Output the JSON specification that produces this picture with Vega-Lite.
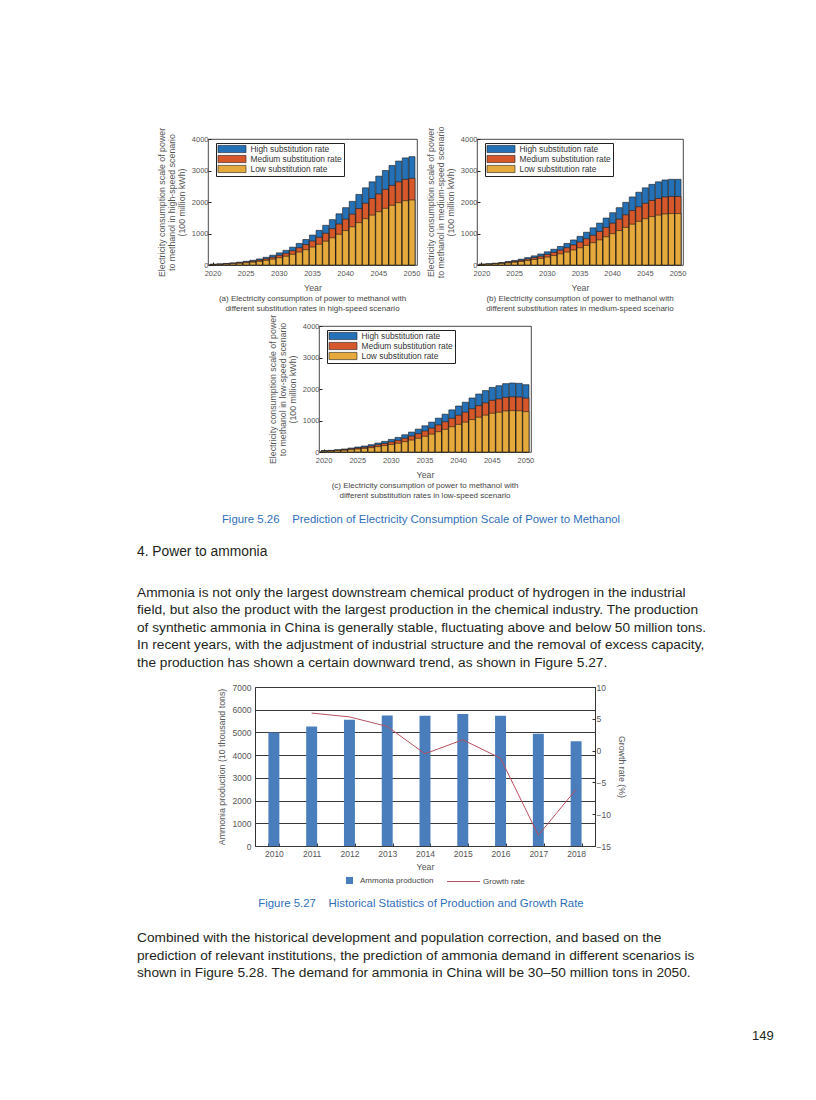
{
  "$schema": "https://vega.github.io/schema/vega-lite/v6.json",
  "background": "white",
  "padding": 0,
  "spacing": 0,
  "config": {
    "font": "Liberation Sans",
    "view": {"stroke": "#1a1a1a", "strokeWidth": 0.8},
    "axis": {"labelFont": "Liberation Sans", "titleFont": "Liberation Sans", "labelColor": "#555", "titleColor": "#555", "titleFontWeight": "normal", "labelFontSize": 7.5, "titleFontSize": 8.8, "domain": false, "tickColor": "#222", "grid": false, "titleLineHeight": 10},
    "title": {"font": "Liberation Sans", "fontSize": 8, "fontWeight": "normal", "color": "#444", "lineHeight": 10, "offset": 3, "anchor": "middle"},
    "text": {"font": "Liberation Sans"}
  },
  "resolve": {"scale": {"color": "independent", "fill": "independent", "stroke": "independent"}, "legend": {"color": "independent", "fill": "independent", "stroke": "independent"}},
  "datasets": {
    "a": [
      {"year": 2020, "h": 25, "m": 20, "l": 15}, {"year": 2021, "h": 35, "m": 28, "l": 21}, {"year": 2022, "h": 50, "m": 40, "l": 30},
      {"year": 2023, "h": 68, "m": 54, "l": 41}, {"year": 2024, "h": 90, "m": 72, "l": 54}, {"year": 2025, "h": 118, "m": 94, "l": 71},
      {"year": 2026, "h": 150, "m": 120, "l": 90}, {"year": 2027, "h": 192, "m": 154, "l": 115}, {"year": 2028, "h": 245, "m": 196, "l": 147},
      {"year": 2029, "h": 310, "m": 248, "l": 186}, {"year": 2030, "h": 385, "m": 308, "l": 231}, {"year": 2031, "h": 465, "m": 372, "l": 279},
      {"year": 2032, "h": 565, "m": 452, "l": 339}, {"year": 2033, "h": 685, "m": 548, "l": 411}, {"year": 2034, "h": 810, "m": 648, "l": 486},
      {"year": 2035, "h": 950, "m": 760, "l": 570}, {"year": 2036, "h": 1100, "m": 880, "l": 660}, {"year": 2037, "h": 1260, "m": 1008, "l": 756},
      {"year": 2038, "h": 1440, "m": 1152, "l": 864}, {"year": 2039, "h": 1625, "m": 1300, "l": 975}, {"year": 2040, "h": 1820, "m": 1456, "l": 1092},
      {"year": 2041, "h": 2020, "m": 1616, "l": 1212}, {"year": 2042, "h": 2240, "m": 1792, "l": 1344}, {"year": 2043, "h": 2450, "m": 1960, "l": 1470},
      {"year": 2044, "h": 2640, "m": 2112, "l": 1584}, {"year": 2045, "h": 2820, "m": 2256, "l": 1692}, {"year": 2046, "h": 3000, "m": 2400, "l": 1800},
      {"year": 2047, "h": 3160, "m": 2528, "l": 1896}, {"year": 2048, "h": 3300, "m": 2640, "l": 1980}, {"year": 2049, "h": 3400, "m": 2720, "l": 2040},
      {"year": 2050, "h": 3440, "m": 2752, "l": 2064}
    ],
    "b": [
      {"year": 2020, "h": 28, "m": 22, "l": 17}, {"year": 2021, "h": 40, "m": 32, "l": 24}, {"year": 2022, "h": 58, "m": 46, "l": 35},
      {"year": 2023, "h": 80, "m": 64, "l": 48}, {"year": 2024, "h": 110, "m": 88, "l": 66}, {"year": 2025, "h": 145, "m": 116, "l": 87},
      {"year": 2026, "h": 185, "m": 148, "l": 111}, {"year": 2027, "h": 235, "m": 188, "l": 141}, {"year": 2028, "h": 290, "m": 232, "l": 174},
      {"year": 2029, "h": 350, "m": 280, "l": 210}, {"year": 2030, "h": 420, "m": 336, "l": 252}, {"year": 2031, "h": 500, "m": 400, "l": 300},
      {"year": 2032, "h": 590, "m": 472, "l": 354}, {"year": 2033, "h": 685, "m": 548, "l": 411}, {"year": 2034, "h": 795, "m": 636, "l": 477},
      {"year": 2035, "h": 910, "m": 728, "l": 546}, {"year": 2036, "h": 1040, "m": 832, "l": 624}, {"year": 2037, "h": 1180, "m": 944, "l": 708},
      {"year": 2038, "h": 1330, "m": 1064, "l": 798}, {"year": 2039, "h": 1490, "m": 1192, "l": 894}, {"year": 2040, "h": 1660, "m": 1328, "l": 996},
      {"year": 2041, "h": 1820, "m": 1456, "l": 1092}, {"year": 2042, "h": 1990, "m": 1592, "l": 1194}, {"year": 2043, "h": 2160, "m": 1728, "l": 1296},
      {"year": 2044, "h": 2310, "m": 1848, "l": 1386}, {"year": 2045, "h": 2450, "m": 1960, "l": 1470}, {"year": 2046, "h": 2560, "m": 2048, "l": 1536},
      {"year": 2047, "h": 2640, "m": 2112, "l": 1584}, {"year": 2048, "h": 2700, "m": 2160, "l": 1620}, {"year": 2049, "h": 2720, "m": 2176, "l": 1632},
      {"year": 2050, "h": 2720, "m": 2176, "l": 1632}
    ],
    "c": [
      {"year": 2020, "h": 42, "m": 34, "l": 25}, {"year": 2021, "h": 53, "m": 42, "l": 32}, {"year": 2022, "h": 74, "m": 59, "l": 44},
      {"year": 2023, "h": 95, "m": 76, "l": 57}, {"year": 2024, "h": 126, "m": 101, "l": 76}, {"year": 2025, "h": 158, "m": 126, "l": 95},
      {"year": 2026, "h": 190, "m": 152, "l": 114}, {"year": 2027, "h": 232, "m": 186, "l": 139}, {"year": 2028, "h": 284, "m": 227, "l": 170},
      {"year": 2029, "h": 337, "m": 270, "l": 202}, {"year": 2030, "h": 400, "m": 320, "l": 240}, {"year": 2031, "h": 463, "m": 370, "l": 278},
      {"year": 2032, "h": 547, "m": 438, "l": 328}, {"year": 2033, "h": 632, "m": 506, "l": 379}, {"year": 2034, "h": 726, "m": 581, "l": 436},
      {"year": 2035, "h": 832, "m": 666, "l": 499}, {"year": 2036, "h": 947, "m": 758, "l": 568}, {"year": 2037, "h": 1074, "m": 859, "l": 644},
      {"year": 2038, "h": 1200, "m": 960, "l": 720}, {"year": 2039, "h": 1337, "m": 1070, "l": 802}, {"year": 2040, "h": 1460, "m": 1168, "l": 876},
      {"year": 2041, "h": 1580, "m": 1264, "l": 948}, {"year": 2042, "h": 1715, "m": 1372, "l": 1029}, {"year": 2043, "h": 1840, "m": 1472, "l": 1104},
      {"year": 2044, "h": 1950, "m": 1560, "l": 1170}, {"year": 2045, "h": 2050, "m": 1640, "l": 1230}, {"year": 2046, "h": 2105, "m": 1684, "l": 1263},
      {"year": 2047, "h": 2170, "m": 1736, "l": 1302}, {"year": 2048, "h": 2190, "m": 1752, "l": 1314}, {"year": 2049, "h": 2180, "m": 1744, "l": 1308},
      {"year": 2050, "h": 2137, "m": 1710, "l": 1282}
    ],
    "nh3": [
      {"year": 2010, "prod": 5000},
      {"year": 2011, "prod": 5260, "growth": 5.9},
      {"year": 2012, "prod": 5560, "growth": 5.3},
      {"year": 2013, "prod": 5750, "growth": 3.8},
      {"year": 2014, "prod": 5730, "growth": -0.5},
      {"year": 2015, "prod": 5810, "growth": 1.7},
      {"year": 2016, "prod": 5730, "growth": -1.2},
      {"year": 2017, "prod": 4940, "growth": -13.3},
      {"year": 2018, "prod": 4610, "growth": -6.1}
    ]
  },
  "vconcat": [
    {"width": 1, "height": 125, "data": {"values": []}, "mark": "point", "view": {"stroke": null}},
    {
      "hconcat": [
        {"width": 156, "height": 1, "data": {"values": []}, "mark": "point", "view": {"stroke": null}},
        {
          "width": 209, "height": 126,
          "data": {"name": "a"},
          "transform": [{"fold": ["h", "m", "l"], "as": ["rate", "value"]}],
          "mark": {"type": "bar", "stroke": "#1a1a1a", "strokeWidth": 0.6},
          "encoding": {
            "x": {"field": "year", "type": "ordinal", "scale": {"paddingInner": 0.08, "paddingOuter": 0.3},
                  "axis": {"values": [2020, 2025, 2030, 2035, 2040, 2045, 2050], "labelAngle": 0, "title": "Year", "titlePadding": 7, "labelPadding": 7, "tickSize": -3}},
            "y": {"field": "value", "type": "quantitative", "stack": null, "scale": {"domain": [0, 4000], "nice": false},
                  "axis": {"values": [0, 1000, 2000, 3000, 4000], "format": "d", "title": ["Electricity consumption scale of power", "to methanol in high-speed scenario", "(100 million kWh)"], "titlePadding": 5, "labelPadding": 3, "tickSize": -3}},
            "color": {"field": "rate", "type": "nominal", "scale": {"domain": ["h", "m", "l"], "range": ["#2471b8", "#d6582a", "#e6aa3c"]},
                      "legend": {"orient": "none", "legendX": 8, "legendY": 4, "title": null, "direction": "vertical", "strokeColor": "#222", "fillColor": "#fff", "padding": 1.5, "labelFontSize": 8.4, "labelColor": "#333", "labelFont": "Liberation Sans", "symbolType": "M-3.5,-0.9H3.5V0.9H-3.5Z", "symbolSize": 64, "symbolOffset": 10, "labelOffset": 14, "rowPadding": -1.5, "symbolStrokeColor": "#222", "symbolStrokeWidth": 0.6, "symbolOpacity": 1,
                                 "labelExpr": "datum.label == 'h' ? 'High substitution rate' : datum.label == 'm' ? 'Medium substitution rate' : 'Low substitution rate'"}}
          },
          "title": {"text": ["(a) Electricity consumption of power to methanol with", "different substitution rates in high-speed scenario"], "orient": "bottom"}
        },
        {"width": 4, "height": 1, "data": {"values": []}, "mark": "point", "view": {"stroke": null}},
        {
          "width": 206, "height": 126,
          "data": {"name": "b"},
          "transform": [{"fold": ["h", "m", "l"], "as": ["rate", "value"]}],
          "mark": {"type": "bar", "stroke": "#1a1a1a", "strokeWidth": 0.6},
          "encoding": {
            "x": {"field": "year", "type": "ordinal", "scale": {"paddingInner": 0.08, "paddingOuter": 0.3},
                  "axis": {"values": [2020, 2025, 2030, 2035, 2040, 2045, 2050], "labelAngle": 0, "title": "Year", "titlePadding": 7, "labelPadding": 7, "tickSize": -3}},
            "y": {"field": "value", "type": "quantitative", "stack": null, "scale": {"domain": [0, 4000], "nice": false},
                  "axis": {"values": [0, 1000, 2000, 3000, 4000], "format": "d", "title": ["Electricity consumption scale of power", "to methanol in medium-speed scenario", "(100 million kWh)"], "titlePadding": 5, "labelPadding": 3, "tickSize": -3}},
            "color": {"field": "rate", "type": "nominal", "scale": {"domain": ["h", "m", "l"], "range": ["#2471b8", "#d6582a", "#e6aa3c"]},
                      "legend": {"orient": "none", "legendX": 8, "legendY": 4, "title": null, "direction": "vertical", "strokeColor": "#222", "fillColor": "#fff", "padding": 1.5, "labelFontSize": 8.4, "labelColor": "#333", "labelFont": "Liberation Sans", "symbolType": "M-3.5,-0.9H3.5V0.9H-3.5Z", "symbolSize": 64, "symbolOffset": 10, "labelOffset": 14, "rowPadding": -1.5, "symbolStrokeColor": "#222", "symbolStrokeWidth": 0.6, "symbolOpacity": 1,
                                 "labelExpr": "datum.label == 'h' ? 'High substitution rate' : datum.label == 'm' ? 'Medium substitution rate' : 'Low substitution rate'"}}
          },
          "title": {"text": ["(b) Electricity consumption of power to methanol with", "different substitution rates in medium-speed scenario"], "orient": "bottom"}
        }
      ],
      "spacing": 0,
      "resolve": {"scale": {"color": "independent"}, "legend": {"color": "independent"}}
    },
    {
      "hconcat": [
        {"width": 267, "height": 1, "data": {"values": []}, "mark": "point", "view": {"stroke": null}},
        {
          "width": 212, "height": 126,
          "data": {"name": "c"},
          "transform": [{"fold": ["h", "m", "l"], "as": ["rate", "value"]}],
          "mark": {"type": "bar", "stroke": "#1a1a1a", "strokeWidth": 0.6},
          "encoding": {
            "x": {"field": "year", "type": "ordinal", "scale": {"paddingInner": 0.08, "paddingOuter": 0.3},
                  "axis": {"values": [2020, 2025, 2030, 2035, 2040, 2045, 2050], "labelAngle": 0, "title": "Year", "titlePadding": 7, "labelPadding": 7, "tickSize": -3}},
            "y": {"field": "value", "type": "quantitative", "stack": null, "scale": {"domain": [0, 4000], "nice": false},
                  "axis": {"values": [0, 1000, 2000, 3000, 4000], "format": "d", "title": ["Electricity consumption scale of power", "to methanol in low-speed scenario", "(100 million kWh)"], "titlePadding": 5, "labelPadding": 3, "tickSize": -3}},
            "color": {"field": "rate", "type": "nominal", "scale": {"domain": ["h", "m", "l"], "range": ["#2471b8", "#d6582a", "#e6aa3c"]},
                      "legend": {"orient": "none", "legendX": 8, "legendY": 4, "title": null, "direction": "vertical", "strokeColor": "#222", "fillColor": "#fff", "padding": 1.5, "labelFontSize": 8.4, "labelColor": "#333", "labelFont": "Liberation Sans", "symbolType": "M-3.5,-0.9H3.5V0.9H-3.5Z", "symbolSize": 64, "symbolOffset": 10, "labelOffset": 14, "rowPadding": -1.5, "symbolStrokeColor": "#222", "symbolStrokeWidth": 0.6, "symbolOpacity": 1,
                                 "labelExpr": "datum.label == 'h' ? 'High substitution rate' : datum.label == 'm' ? 'Medium substitution rate' : 'Low substitution rate'"}}
          },
          "title": {"text": ["(c) Electricity consumption of power to methanol with", "different substitution rates in low-speed scenario"], "orient": "bottom"}
        }
      ],
      "spacing": 0,
      "resolve": {"scale": {"color": "independent"}, "legend": {"color": "independent"}}
    },
    {"width": 1, "height": 12, "data": {"values": []}, "mark": "point", "view": {"stroke": null}},
    {
      "hconcat": [
        {"width": 137, "height": 1, "data": {"values": []}, "mark": "point", "view": {"stroke": null}},
        {
          "width": 568, "height": 14, "view": {"stroke": null},
          "data": {"values": [{"text": "Figure 5.26\u00a0\u00a0\u00a0\u00a0Prediction of Electricity Consumption Scale of Power to Methanol"}]},
          "mark": {"type": "text", "align": "center", "baseline": "middle", "fontSize": 11.4, "color": "#2f6fba"},
          "encoding": {
            "x": {"datum": 0.5, "type": "quantitative", "scale": {"domain": [0, 1]}, "axis": null},
            "text": {"field": "text"}
          }
        }
      ],
      "spacing": 0
    },
    {"width": 1, "height": 18, "data": {"values": []}, "mark": "point", "view": {"stroke": null}},
    {
      "hconcat": [
        {"width": 137, "height": 1, "data": {"values": []}, "mark": "point", "view": {"stroke": null}},
        {
          "width": 568, "height": 14, "view": {"stroke": null},
          "data": {"values": [{"text": "4.\u00a0Power to ammonia"}]},
          "mark": {"type": "text", "align": "left", "baseline": "middle", "fontSize": 13.8, "color": "#231f20"},
          "encoding": {
            "x": {"datum": 0, "type": "quantitative", "scale": {"domain": [0, 1]}, "axis": null},
            "text": {"field": "text"}
          }
        }
      ],
      "spacing": 0
    },
    {"width": 1, "height": 25, "data": {"values": []}, "mark": "point", "view": {"stroke": null}},
    {
      "hconcat": [
        {"width": 137, "height": 1, "data": {"values": []}, "mark": "point", "view": {"stroke": null}},
        {
          "width": 568, "height": 87.5, "view": {"stroke": null},
          "data": {"values": [
            {"line": 1, "text": "Ammonia is not only the largest downstream chemical product of hydrogen in the industrial"},
            {"line": 2, "text": "field, but also the product with the largest production in the chemical industry. The production"},
            {"line": 3, "text": "of synthetic ammonia in China is generally stable, fluctuating above and below 50 million tons."},
            {"line": 4, "text": "In recent years, with the adjustment of industrial structure and the removal of excess capacity,"},
            {"line": 5, "text": "the production has shown a certain downward trend, as shown in Figure 5.27."}
          ]},
          "mark": {"type": "text", "align": "left", "baseline": "middle", "fontSize": 13.7, "color": "#231f20"},
          "encoding": {
            "x": {"datum": 0, "type": "quantitative", "scale": {"domain": [0, 1]}, "axis": null},
            "y": {"field": "line", "type": "ordinal", "axis": null},
            "text": {"field": "text"}
          }
        }
      ],
      "spacing": 0
    },
    {"width": 1, "height": 10, "data": {"values": []}, "mark": "point", "view": {"stroke": null}},
    {
      "hconcat": [
        {"width": 216, "height": 1, "data": {"values": []}, "mark": "point", "view": {"stroke": null}},
        {
          "width": 340, "height": 159,
          "view": {"stroke": "#333", "strokeWidth": 1},
          "data": {"name": "nh3"},
          "encoding": {
            "x": {"field": "year", "type": "ordinal", "scale": {"paddingInner": 0.71, "paddingOuter": 0.355},
                  "axis": {"labelAngle": 0, "title": "Year", "tickBand": "extent", "tickSize": -3, "labelFontSize": 8.5, "titleFontSize": 8.8, "labelPadding": 6, "titlePadding": 5, "tickColor": "#333"}}
          },
          "layer": [
            {
              "mark": {"type": "bar"},
              "encoding": {
                "y": {"field": "prod", "type": "quantitative", "scale": {"domain": [0, 7000], "nice": false},
                      "axis": {"values": [0, 1000, 2000, 3000, 4000, 5000, 6000, 7000], "format": "d", "title": "Ammonia production (10 thousand tons)", "grid": true, "gridColor": "#3a3a3a", "gridWidth": 1.1, "ticks": false, "labelPadding": 4, "labelFontSize": 8.5, "titleFontSize": 8.8, "titlePadding": 6}},
                "fill": {"datum": "Ammonia production", "type": "nominal", "scale": {"range": ["#4a7dbb"]},
                         "legend": {"orient": "none", "legendX": 90, "legendY": 189, "direction": "horizontal", "title": null, "symbolType": "square", "symbolSize": 50, "labelFontSize": 8, "labelColor": "#444", "labelFont": "Liberation Sans", "labelOffset": 6, "padding": 0, "symbolOpacity": 1}}
              }
            },
            {
              "mark": {"type": "line", "strokeWidth": 1},
              "encoding": {
                "y": {"field": "growth", "type": "quantitative", "scale": {"domain": [-15, 10], "nice": false},
                      "axis": {"orient": "right", "values": [-15, -10, -5, 0, 5, 10], "title": "Growth rate (%)", "tickSize": -3, "labelPadding": 4, "labelFontSize": 8.5, "titleFontSize": 8.8, "titlePadding": 6, "tickColor": "#333"}},
                "stroke": {"datum": "Growth rate", "type": "nominal", "scale": {"range": ["#b5505e"]},
                           "legend": {"orient": "none", "legendX": 192, "legendY": 189, "direction": "horizontal", "title": null, "symbolType": "M-3.3,0H3.3", "symbolSize": 100, "symbolStrokeWidth": 1, "symbolOffset": 11, "labelOffset": 14, "labelFontSize": 8, "labelColor": "#444", "labelFont": "Liberation Sans", "padding": 0}}
              }
            }
          ],
          "resolve": {"scale": {"y": "independent"}}
        }
      ],
      "spacing": 0,
      "resolve": {"scale": {"fill": "independent", "stroke": "independent"}, "legend": {"fill": "independent", "stroke": "independent"}}
    },
    {"width": 1, "height": 10, "data": {"values": []}, "mark": "point", "view": {"stroke": null}},
    {
      "hconcat": [
        {"width": 137, "height": 1, "data": {"values": []}, "mark": "point", "view": {"stroke": null}},
        {
          "width": 568, "height": 14, "view": {"stroke": null},
          "data": {"values": [{"text": "Figure 5.27\u00a0\u00a0\u00a0\u00a0Historical Statistics of Production and Growth Rate"}]},
          "mark": {"type": "text", "align": "center", "baseline": "middle", "fontSize": 11.4, "color": "#2f6fba"},
          "encoding": {
            "x": {"datum": 0.5, "type": "quantitative", "scale": {"domain": [0, 1]}, "axis": null},
            "text": {"field": "text"}
          }
        }
      ],
      "spacing": 0
    },
    {"width": 1, "height": 18, "data": {"values": []}, "mark": "point", "view": {"stroke": null}},
    {
      "hconcat": [
        {"width": 137, "height": 1, "data": {"values": []}, "mark": "point", "view": {"stroke": null}},
        {
          "width": 568, "height": 53, "view": {"stroke": null},
          "data": {"values": [
            {"line": 1, "text": "Combined with the historical development and population correction, and based on the"},
            {"line": 2, "text": "prediction of relevant institutions, the prediction of ammonia demand in different scenarios is"},
            {"line": 3, "text": "shown in Figure 5.28. The demand for ammonia in China will be 30\u201350 million tons in 2050."}
          ]},
          "mark": {"type": "text", "align": "left", "baseline": "middle", "fontSize": 13.7, "color": "#231f20"},
          "encoding": {
            "x": {"datum": 0, "type": "quantitative", "scale": {"domain": [0, 1]}, "axis": null},
            "y": {"field": "line", "type": "ordinal", "axis": null},
            "text": {"field": "text"}
          }
        }
      ],
      "spacing": 0
    },
    {"width": 1, "height": 47, "data": {"values": []}, "mark": "point", "view": {"stroke": null}},
    {
      "hconcat": [
        {"width": 752, "height": 1, "data": {"values": []}, "mark": "point", "view": {"stroke": null}},
        {
          "width": 30, "height": 14, "view": {"stroke": null},
          "data": {"values": [{"text": "149"}]},
          "mark": {"type": "text", "align": "left", "baseline": "middle", "fontSize": 13, "color": "#231f20"},
          "encoding": {
            "x": {"datum": 0, "type": "quantitative", "scale": {"domain": [0, 1]}, "axis": null},
            "text": {"field": "text"}
          }
        }
      ],
      "spacing": 0
    }
  ]
}
